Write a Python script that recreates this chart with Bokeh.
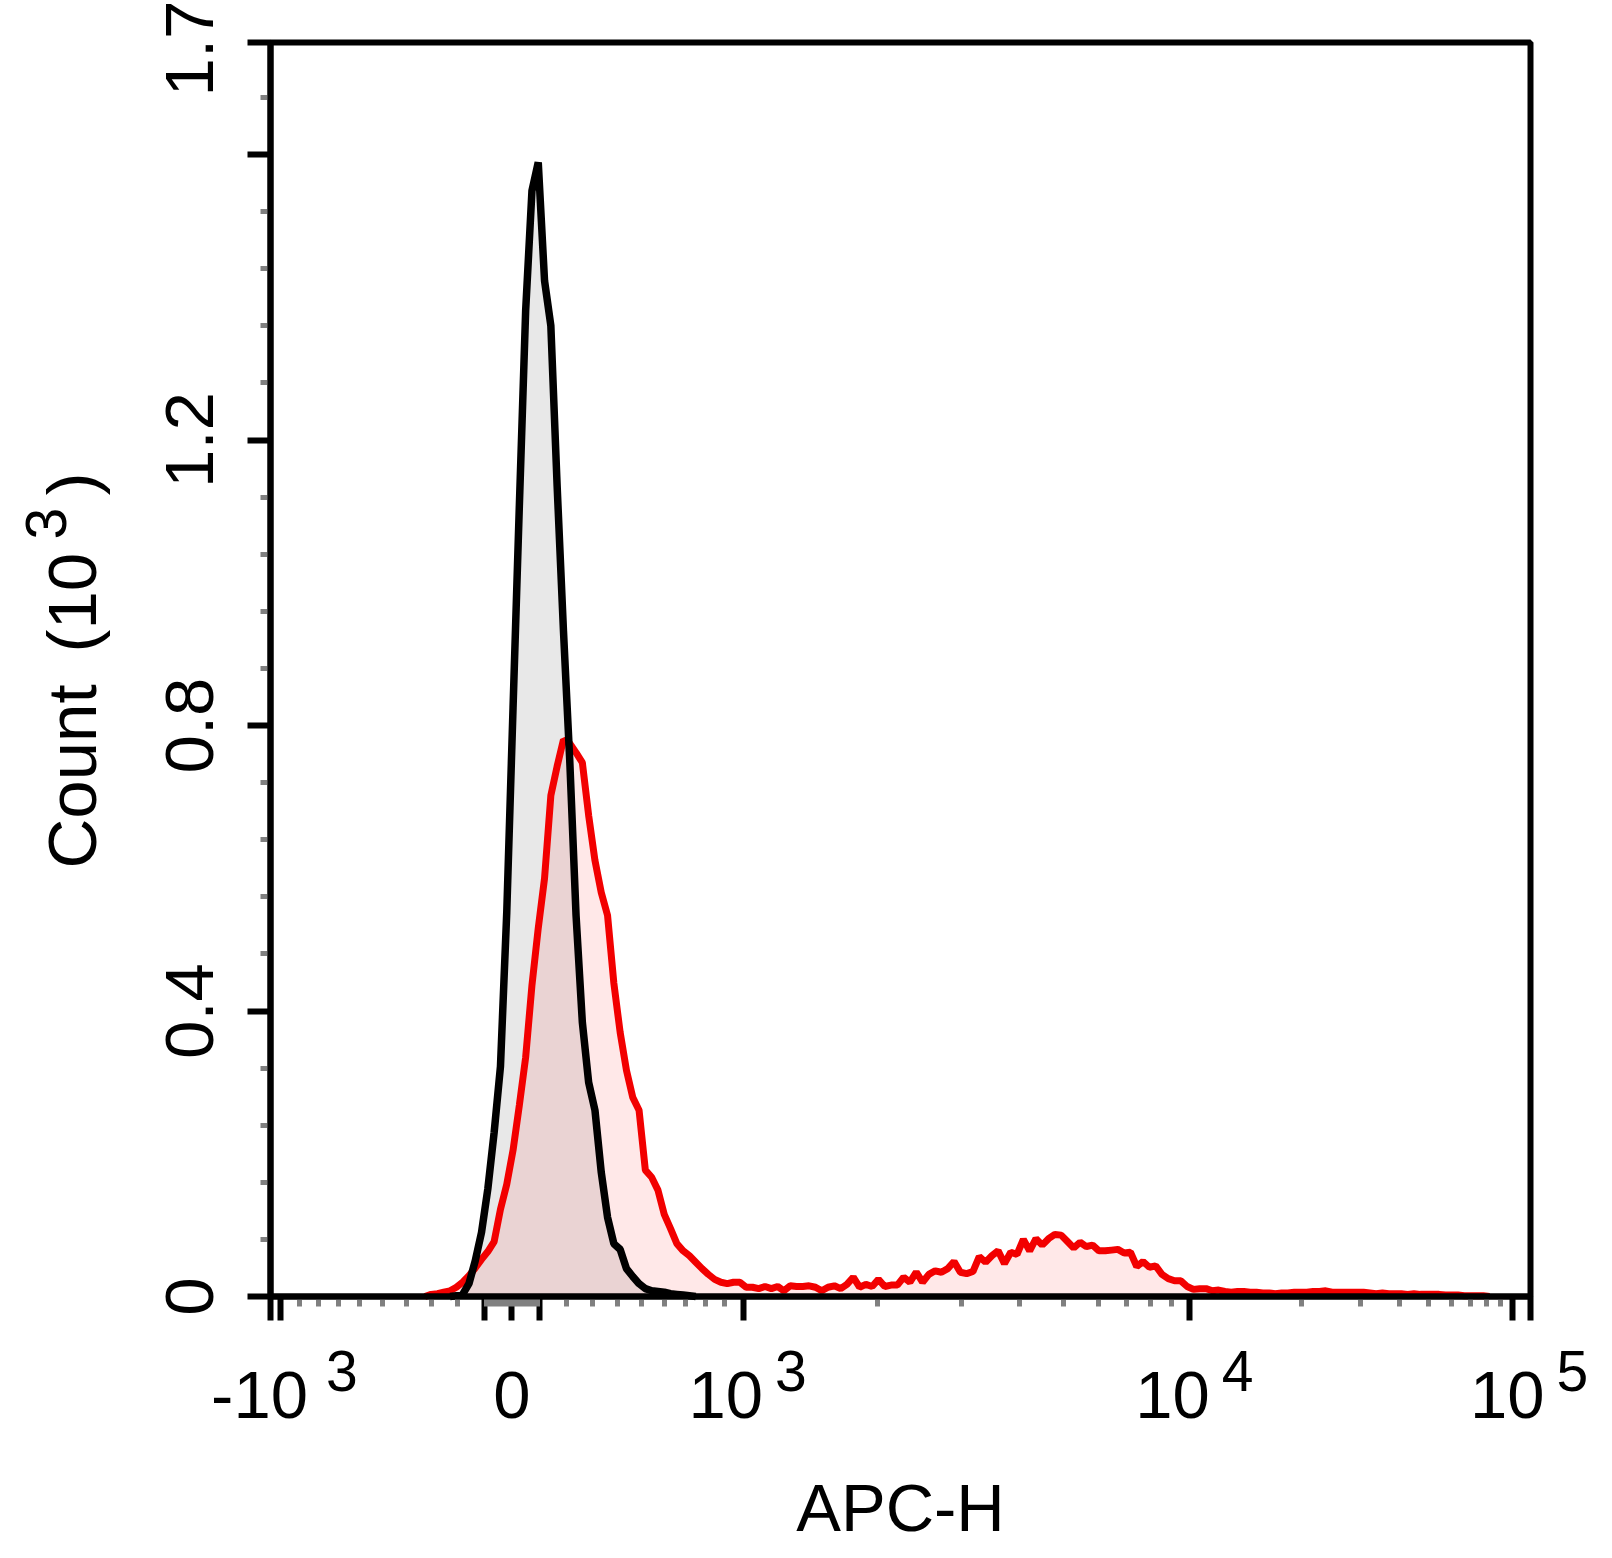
import numpy as np
from bokeh.plotting import figure
from bokeh.models import Range1d, FixedTicker, Label, BoxAnnotation
from bokeh.embed import file_html
from bokeh.resources import INLINE

# APC-H histogram: counts per display channel (200 channels across the axis)
n_channels = 200

black_start = 28
black_counts = [0, 1, 3, 18, 50, 90, 151, 230, 322, 538, 825, 1108, 1381, 1549,
                1589, 1423, 1360, 1135, 933, 751, 534, 384, 300, 261, 174, 111,
                74, 66, 39, 28, 18, 11, 8, 7, 6, 4, 3, 2, 1, 0]

red_start = 24
red_counts = [0, 3, 4, 6, 8, 13, 20, 29, 40, 52, 63, 77, 122, 157, 205, 268, 335,
              436, 516, 586, 702, 743, 780, 775, 762, 748, 674, 611, 566, 534,
              439, 370, 317, 279, 261, 177, 167, 149, 115, 95, 74, 64, 57, 48,
              39, 31, 24, 20, 18, 20, 20, 13, 13, 11, 14, 11, 14, 8, 15, 14, 14,
              15, 13, 8, 13, 15, 11, 17, 27, 13, 17, 14, 24, 14, 16, 16, 27, 20,
              34, 20, 31, 36, 34, 39, 49, 34, 32, 35, 56, 48, 57, 64, 46, 62, 59,
              80, 64, 81, 72, 81, 87, 86, 77, 68, 76, 70, 72, 64, 64, 65, 66, 61,
              62, 42, 49, 41, 43, 31, 25, 22, 22, 14, 10, 11, 11, 8, 9, 7, 6, 7,
              7, 6, 6, 5, 5, 4, 5, 5, 6, 6, 6, 7, 7, 8, 6, 6, 6, 6, 6, 6, 5, 4,
              5, 4, 4, 4, 3, 4, 3, 3, 3, 3, 2, 2, 2, 1, 1, 1, 1, 0]

# axis ticks
x_major = [-1000, -100, 0, 100, 1000, 10000, 100000]
x_minor = ([-v for v in range(200, 1000, 100)] + [-v for v in range(10, 100, 10)]
           + list(range(10, 100, 10)) + list(range(200, 1000, 100))
           + list(range(2000, 10000, 1000)) + list(range(20000, 100000, 10000)))
x_label_values = [-1000, 0, 1000, 10000, 100000]
x_label_base = ["-10", "0", "10", "10", "10"]
x_label_exp = ["3", "", "3", "4", "5"]

y_top = 1.757
y_major = [0, 0.4, 0.8, 1.2, 1.6, y_top]
y_major_labels = ["0", "0.4", "0.8", "1.2", "", "1.7"]
y_minor = [round(0.08 * k, 2) for k in range(1, 22) if k % 5 != 0]

FONT = "Liberation Sans"
W, H = 1600, 1550
# plot box on the canvas: left 270, bottom 1296, 6.3 px per channel, 713.75 px per 10^3 counts
PX_X, PX_Y, BOX_L, BOX_B = 6.3, 713.75, 270, 1296
# horizontal shifts (px) of the "10" part and the exponent of each x label
base_shift = [27, 0, 20, 20, 32]
exp_shift = [45, 0, 32, 32, 44]


def biex(v):
    # biexponential display transform: APC-H value -> display channel
    u = np.arcsinh(np.asarray(v, dtype=float) / 1180.0)
    return 38.33 + 52.7 * u / (1 + 0.137 * np.abs(u))


def ydata(ypx):
    return (BOX_B - ypx) / PX_Y


def xdata(xpx):
    return (xpx - BOX_L) / PX_X


p = figure(width=W, height=H,
           x_range=Range1d(xdata(0), xdata(W)), y_range=Range1d(ydata(H), ydata(0)),
           output_backend="svg", toolbar_location=None, min_border=0)
p.outline_line_color = None
p.xgrid.visible = False
p.ygrid.visible = False

xb = black_start + np.arange(len(black_counts)) + 0.5
yb = np.array(black_counts) / 1000.0
xr = red_start + np.arange(len(red_counts)) + 0.5
yr = np.array(red_counts) / 1000.0

p.varea(x=xb, y1=0, y2=yb, fill_color="black", fill_alpha=0.09)
p.varea(x=xr, y1=0, y2=yr, fill_color="red", fill_alpha=0.09)
p.line(xr, yr, line_color="#f20000", line_width=7)
p.line(xb, yb, line_color="black", line_width=7.5)

p.add_layout(BoxAnnotation(left=0, right=n_channels, bottom=0, top=y_top,
                           fill_color=None, fill_alpha=0, line_color="black",
                           line_alpha=1, line_width=6))

# x axis: ticks only, labels drawn below with superscripts
p.xaxis.fixed_location = 0
p.xaxis.bounds = (0, n_channels)
xt = [0.0] + [float(t) for t in biex(x_major)] + [float(n_channels)]
p.xaxis.ticker = FixedTicker(ticks=xt, minor_ticks=[float(t) for t in biex(x_minor)])
p.xaxis.major_label_text_font_size = "0px"
p.xaxis.axis_line_width = 6
p.xaxis.major_tick_line_width = 6
p.xaxis.major_tick_out = 24
p.xaxis.major_tick_in = 0
p.xaxis.minor_tick_line_color = "#808080"
p.xaxis.minor_tick_line_width = 5
p.xaxis.minor_tick_out = 10
p.xaxis.minor_tick_in = 0

p.yaxis.fixed_location = 0
p.yaxis.bounds = (0, y_top)
p.yaxis.ticker = FixedTicker(ticks=y_major, minor_ticks=y_minor)
p.yaxis.major_label_overrides = dict(zip(y_major, y_major_labels))
p.yaxis.major_label_orientation = "vertical"
p.yaxis.major_label_text_font = FONT
p.yaxis.major_label_text_font_size = "69px"
p.yaxis.major_label_text_color = "black"
p.yaxis.major_label_standoff = 35
p.yaxis.axis_line_width = 6
p.yaxis.major_tick_line_width = 6
p.yaxis.major_tick_out = 23
p.yaxis.major_tick_in = 0
p.yaxis.minor_tick_line_color = "#808080"
p.yaxis.minor_tick_line_width = 5
p.yaxis.minor_tick_out = 10
p.yaxis.minor_tick_in = 0


def add_text(x, y, text, size, align="left", x_offset=0, angle=0):
    p.add_layout(Label(x=x, y=y, text=text, text_align=align, x_offset=x_offset,
                       angle=angle, text_baseline="alphabetic", text_color="black",
                       text_font=FONT, text_font_size=size))


for v, base, sup, bs, es in zip(x_label_values, x_label_base, x_label_exp,
                                base_shift, exp_shift):
    xc = float(biex(v))
    if sup:
        add_text(xc, ydata(1415 - 21), base, "67px", "right", bs)
        add_text(xc, ydata(1388 - 18), sup, "57px", "left", es)
    else:
        add_text(xc, ydata(1415 - 21), base, "67px", "center")

add_text(n_channels / 2, ydata(1528 - 21), "APC-H", "67px", "center")

# y axis title: Count (10^3), rotated
for txt, xpx, ypx, size in [("Count", 96.5, 868, "69px"), ("(10", 96.5, 652, "69px"),
                            ("3", 70, 539, "57px"), (")", 96.5, 495, "69px")]:
    add_text(xdata(xpx - 25), ydata(ypx), txt, size, angle=np.pi / 2)

open("out.html", "w").write(file_html(p, INLINE))
